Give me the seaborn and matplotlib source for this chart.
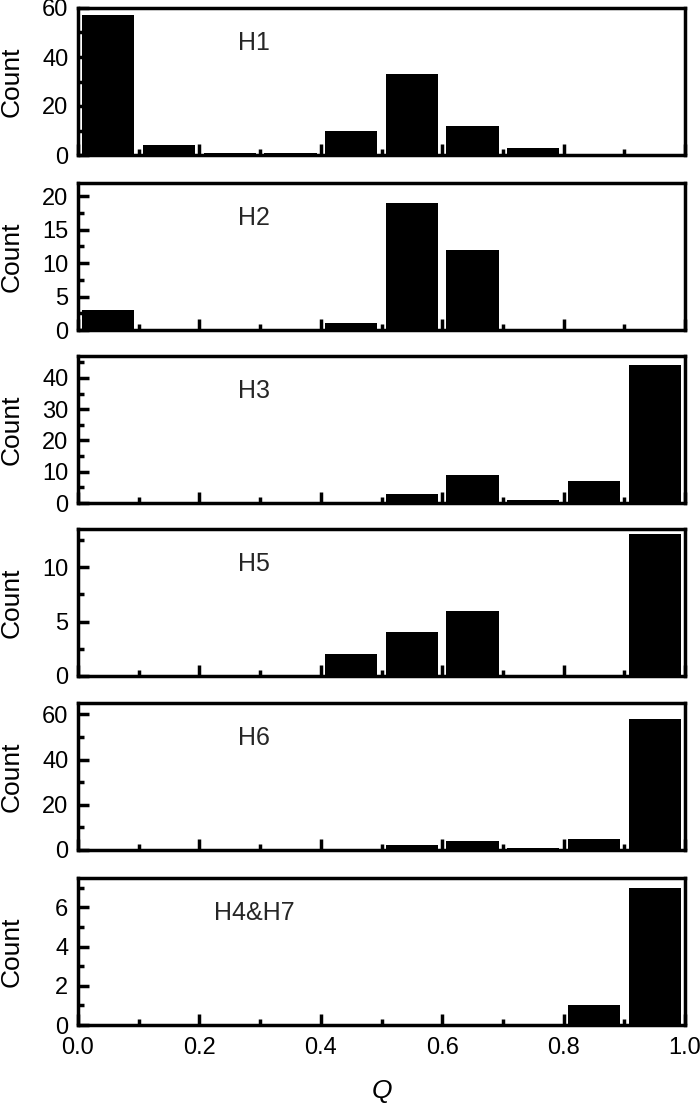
import numpy as np
import pandas as pd
import seaborn as sns
import matplotlib.pyplot as plt
from matplotlib.ticker import MultipleLocator

# bin centres of Q and counts per panel
q_bins = [0.05, 0.15, 0.25, 0.35, 0.45, 0.55, 0.65, 0.75, 0.85, 0.95]
h1 = [57, 4, 1, 1, 10, 33, 12, 3, 0, 0]
h2 = [3, 0, 0, 0, 1, 19, 12, 0, 0, 0]
h3 = [0, 0, 0, 0, 0, 3, 9, 1, 7, 44]
h5 = [0, 0, 0, 0, 2, 4, 6, 0, 0, 13]
h6 = [0, 0, 0, 0, 0, 2, 4, 1, 5, 58]
h47 = [0, 0, 0, 0, 0, 0, 0, 0, 1, 7]

labels = ['H1', 'H2', 'H3', 'H5', 'H6', 'H4&H7']
counts = [h1, h2, h3, h5, h6, h47]
ylims = [60, 22, 47, 13.5, 65, 7.5]
major = [20, 5, 10, 5, 20, 2]
minor = [10, 2.5, 5, 2.5, 10, 1]

sns.set_style("ticks")
plt.rcParams['font.family'] = ['Liberation Sans', 'DejaVu Sans']

fig = plt.figure(figsize=(7, 11.03), dpi=100)
W, H = 700, 1103
tops = [8, 183, 356, 529, 703, 878]
ph = 147

for i in range(6):
   ax = fig.add_axes([78 / W, 1 - (tops[i] + ph) / H, 607 / W, ph / H])
   df = pd.DataFrame({'Q': q_bins, 'n': counts[i]})
   sns.histplot(data=df, x='Q', weights='n', binwidth=0.1, binrange=(0, 1),
                shrink=0.86, color='black', alpha=1, edgecolor='black',
                linewidth=0, ax=ax)
   ax.set_xlim(0, 1)
   ax.set_ylim(0, ylims[i])
   ax.xaxis.set_major_locator(MultipleLocator(0.2))
   ax.xaxis.set_minor_locator(MultipleLocator(0.1))
   ax.yaxis.set_major_locator(MultipleLocator(major[i]))
   ax.yaxis.set_minor_locator(MultipleLocator(minor[i]))
   ax.tick_params(which='major', direction='in', length=8, width=2.5,
                  labelsize=17, pad=7, color='black', labelcolor='black')
   ax.tick_params(which='minor', direction='in', length=4, width=2.5,
                  color='black')
   ax.tick_params(axis='x', pad=9)
   for s in ax.spines.values():
      s.set_linewidth(2.5)
      s.set_color('black')
      s.set_visible(True)
   ax.set_ylabel('Count', fontsize=19, color='black')
   ax.yaxis.set_label_coords(-0.09, 0.5)
   ax.text(0.29, 0.76, labels[i], transform=ax.transAxes, fontsize=18,
           ha='center', va='center')
   if i < 5:
      ax.set_xlabel('')
      ax.tick_params(axis='x', labelbottom=False)
   else:
      ax.set_xlabel('Q', fontsize=19, fontstyle='italic', labelpad=14,
                    color='black')
      ax.set_xticklabels(['%.1f' % t for t in ax.get_xticks()])

plt.savefig('out.png', dpi=100)
plt.close('all')
